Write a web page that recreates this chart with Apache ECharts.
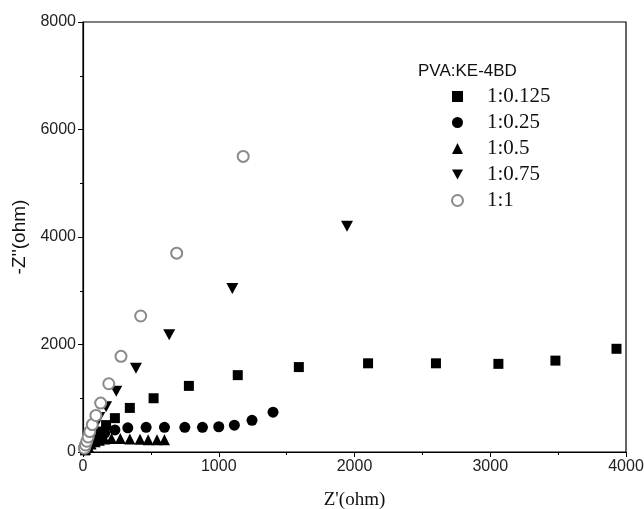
<!DOCTYPE html>
<html>
<head>
<meta charset="utf-8">
<script src="https://cdn.jsdelivr.net/npm/echarts@6/dist/echarts.min.js"></script>
<style>
  html, body { margin: 0; padding: 0; background: #fff; }
  #main { width: 644px; height: 509px; }
</style>
</head>
<body>
<div id="main"></div>
<script>
// Nyquist plot data (Z' and -Z'' in ohm)
const names = ['1:0.125', '1:0.25', '1:0.5', '1:0.75', '1:1'];

const re125 = [15, 30, 50, 80, 120, 170, 235, 345, 520, 780, 1140, 1590, 2100, 2600, 3060, 3480, 3930];
const im125 = [30, 80, 160, 260, 380, 500, 630, 820, 1000, 1230, 1430, 1580, 1650, 1650, 1640, 1700, 1920];

const re25 = [20, 40, 70, 110, 160, 235, 330, 465, 600, 750, 880, 1000, 1115, 1245, 1400];
const im25 = [50, 120, 200, 280, 350, 410, 450, 460, 460, 460, 460, 470, 500, 590, 740];

const re5 = [20, 40, 60, 90, 120, 160, 210, 275, 345, 420, 480, 545, 600];
const im5 = [50, 100, 150, 190, 220, 240, 250, 250, 240, 235, 230, 230, 230];

const re75 = [10, 25, 40, 60, 85, 120, 170, 245, 390, 635, 1100, 1945];
const im75 = [30, 100, 200, 330, 470, 640, 840, 1130, 1560, 2180, 3040, 4200];

const re1 = [10, 18, 28, 38, 50, 68, 95, 130, 190, 280, 425, 690, 1180];
const im1 = [70, 130, 200, 280, 380, 510, 680, 910, 1270, 1780, 2530, 3700, 5500];

const xTicks = [0, 1000, 2000, 3000, 4000];
const yTicks = [0, 2000, 4000, 6000, 8000];

function pairs(xs, ys) {
  return xs.map((x, i) => [x, ys[i]]);
}

var myChart = echarts.init(document.getElementById('main'));

var axisCommon = {
  axisLine: { show: true, onZero: false, lineStyle: { color: '#000', width: 1.2 } },
  axisTick: { show: true, inside: false, length: 5, lineStyle: { color: '#000' } },
  minorTick: { show: true, splitNumber: 2, length: 3, lineStyle: { color: '#000' } },
  splitLine: { show: false },
  axisLabel: { color: '#222', fontFamily: 'Liberation Sans', fontSize: 16, margin: 7,
    formatter: v => String(v) }
};

var option = {
  animation: false,
  backgroundColor: '#fff',
  grid: {
    left: 83, right: 18, top: 22, bottom: 57,
    outerBoundsMode: 'none',
    show: true, borderColor: '#000', borderWidth: 1.2
  },
  title: {
    text: 'PVA:KE-4BD',
    left: 418, top: 63, padding: 0,
    textStyle: { fontFamily: 'Liberation Sans', fontSize: 17, fontWeight: 'normal', color: '#111' }
  },
  legend: {
    orient: 'vertical',
    left: 451, top: 86, padding: 0,
    itemWidth: 11, itemHeight: 11,
    itemGap: 5,
    textStyle: { fontFamily: 'Liberation Serif', fontSize: 21, color: '#111', padding: [0, 0, 0, 19] },
    data: names
  },
  xAxis: Object.assign({}, axisCommon, {
    type: 'value', min: xTicks[0], max: xTicks[xTicks.length - 1], interval: 1000,
    name: "Z'(ohm)", nameLocation: 'middle', nameGap: 39,
    nameTextStyle: { fontFamily: 'Liberation Serif', fontSize: 19, color: '#111' }
  }),
  yAxis: Object.assign({}, axisCommon, {
    type: 'value', min: yTicks[0], max: yTicks[yTicks.length - 1], interval: 2000,
    name: "-Z''(ohm)", nameLocation: 'middle', nameGap: 48, nameRotate: 90,
    nameTextStyle: { fontFamily: 'Liberation Sans', fontSize: 19, color: '#111' }
  }),
  series: [
    { name: names[0], type: 'scatter', symbol: 'rect', symbolSize: 10,
      itemStyle: { color: '#000', opacity: 1 }, data: pairs(re125, im125) },
    { name: names[1], type: 'scatter', symbol: 'circle', symbolSize: 11,
      itemStyle: { color: '#000', opacity: 1 }, data: pairs(re25, im25) },
    { name: names[2], type: 'scatter', symbol: 'triangle', symbolSize: 11,
      itemStyle: { color: '#000', opacity: 1 }, data: pairs(re5, im5) },
    { name: names[3], type: 'scatter', symbol: 'path://M0,0 L10,0 L5,9 Z', symbolSize: [12, 11],
      itemStyle: { color: '#000', opacity: 1 }, data: pairs(re75, im75) },
    { name: names[4], type: 'scatter', symbol: 'emptyCircle', symbolSize: 11,
      itemStyle: { color: '#8a8a8a', borderWidth: 1.5, opacity: 1 }, data: pairs(re1, im1) }
  ]
};

myChart.setOption(option);
</script>
</body>
</html>
